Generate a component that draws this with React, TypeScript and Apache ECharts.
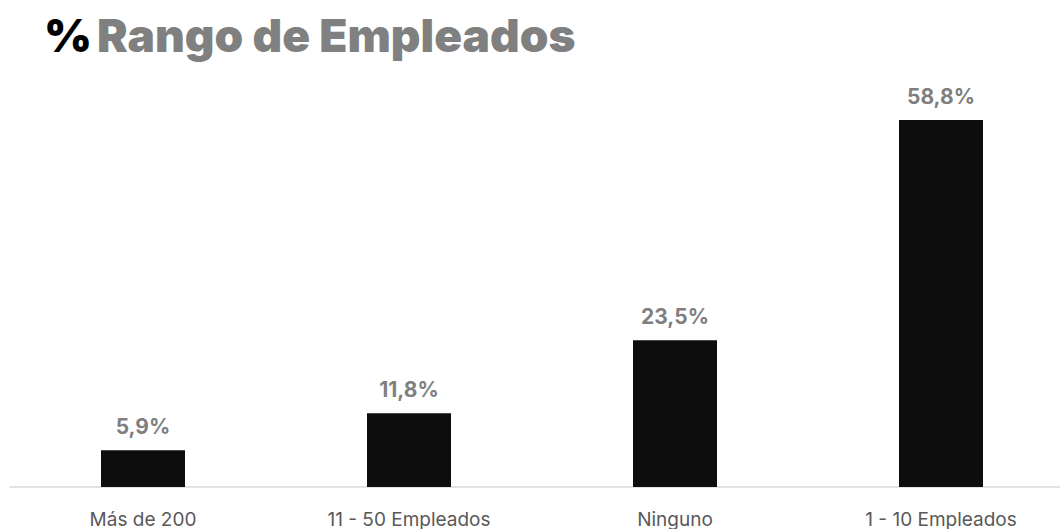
import React, { useEffect, useRef } from "react";
import * as echarts from "echarts";

const categories = ["Más de 200", "11 - 50 Empleados", "Ninguno", "1 - 10 Empleados"];
const values = [5.9, 11.8, 23.5, 58.8];
const titlePrefix = "%";
const titleMain = "Rango de Empleados";

export default function App() {
  const ref = useRef<HTMLDivElement>(null);
  useEffect(() => {
    const chart = echarts.init(ref.current!, undefined, { renderer: "svg" });
    chart.setOption({
      animation: false,
      backgroundColor: "#ffffff",
      title: {
        text: `{a|${titlePrefix}} {b|${titleMain}}`,
        left: 44,
        top: 12,
        padding: 0,
        textStyle: {
          rich: {
            a: { fontFamily: "Inter", fontWeight: 900, fontSize: 46, color: "#000000" },
            b: { fontFamily: "Inter", fontWeight: 900, fontSize: 46, color: "#808080" },
          },
        },
      },
      grid: { left: 10, right: 6, top: 50, bottom: 40, containLabel: false },
      xAxis: {
        type: "category",
        data: categories,
        axisLine: { show: true, lineStyle: { color: "#d9d9d9", width: 1.5 } },
        axisTick: { show: false },
        axisLabel: {
          color: "#595959",
          fontFamily: "Inter",
          fontSize: 19,
          margin: 23,
          interval: 0,
        },
      },
      yAxis: {
        type: "value",
        min: 0,
        max: 70,
        show: false,
        splitLine: { show: false },
      },
      series: [
        {
          type: "bar",
          data: values,
          barWidth: 84,
          itemStyle: { color: "#0d0d0d" },
          label: {
            show: true,
            position: "top",
            distance: 13,
            color: "#7f7f7f",
            fontFamily: "Inter",
            fontWeight: "bold",
            fontSize: 21,
            formatter: (p: any) => p.value.toFixed(1).replace(".", ",") + "%",
          },
        },
      ],
    });
    return () => chart.dispose();
  }, []);
  return (
    <div
      ref={ref}
      style={{ position: "fixed", left: 0, top: 0, width: 1080, height: 529 }}
    />
  );
}
